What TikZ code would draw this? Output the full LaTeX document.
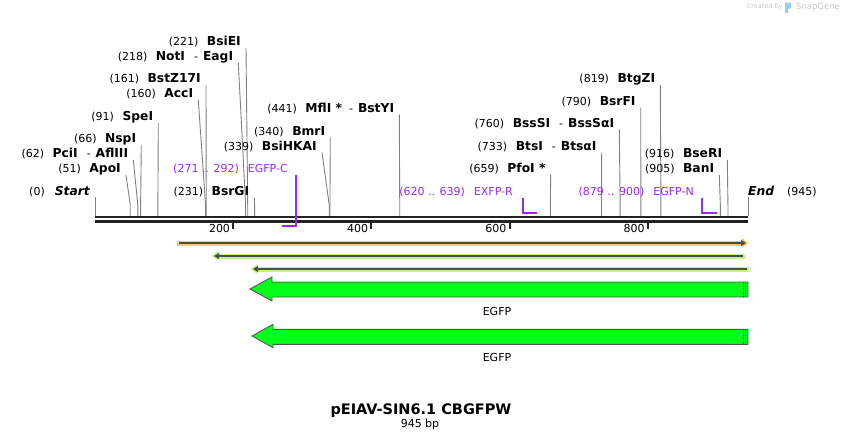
\documentclass[tikz,border=0pt]{standalone}
\usepackage{fontspec}
\setmainfont{DejaVu Sans}
\usetikzlibrary{arrows.meta, positioning}

\definecolor{primerpurple}{RGB}{153,41,240}
\definecolor{sitegray}{RGB}{128,128,128}
\definecolor{bbone}{RGB}{34,34,34}
\definecolor{orangeband}{RGB}{253,202,122}
\definecolor{greenband}{RGB}{192,245,142}
\definecolor{featline}{RGB}{74,80,66}
\definecolor{egfpgreen}{RGB}{4,255,26}
\definecolor{egfpedge}{RGB}{85,85,85}
\definecolor{logogray}{RGB}{200,200,200}
\definecolor{logoblue}{RGB}{150,205,240}

\newcommand\ename[1]{{\fontsize{12.3}{14}\selectfont\bfseries #1}}

\begin{document}
\begin{tikzpicture}[x=1pt, y=-1pt,
    enz/.style={inner sep=0pt, anchor=east, font=\fontsize{11}{13}\selectfont},
    site/.style={draw=sitegray, line width=0.9pt},
    primer/.style={inner sep=0pt, anchor=east, text=primerpurple, font=\fontsize{11}{13}\selectfont},
    bracket/.style={draw=primerpurple, line width=2pt},
    bbline/.style={draw=bbone, line width=2.6pt},
    tick/.style={draw=bbone, line width=2pt},
    ticklab/.style={inner sep=0pt, anchor=east, font=\fontsize{11}{13}\selectfont},
    bandO/.style={draw=orangeband, line width=5pt, -{Triangle[length=7pt,width=10pt]}},
    bandG/.style={draw=greenband, line width=5pt, -{Triangle[length=7pt,width=10pt]}},
    fline/.style={draw=featline, line width=2pt, -{Triangle[length=5pt,width=6pt]}},
    egfp/.style={draw=egfpedge, fill=egfpgreen, line width=0.9pt},
    featlab/.style={font=\fontsize{11}{13}\selectfont}]
  \useasboundingbox (0,0) rectangle (844,439);

  % backbone
  \coordinate (bb-l) at (95,217);
  \coordinate (bb-r) at (748,217);
  \draw[bbline] (bb-l) -- (bb-r);
  \draw[bbline] ([yshift=-4.4pt]bb-l) -- ([yshift=-4.4pt]bb-r);
  \foreach \t in {200,400,600,800}{
    \coordinate (tk\t) at ({95+0.691*\t},222);
    \draw[tick] (tk\t) -- ++(0,7);
    \node[ticklab] (tl\t) at ([xshift=-3pt,yshift=-6.5pt]tk\t) {\t};
  }

  % ends
  \node[enz] (start) at (90,192) {(0)\hspace{10pt}\ename{\itshape Start}};
  \coordinate (start-cut) at (95,216);
  \draw[site] ([xshift=5pt,yshift=-5pt]start.east) -- (start-cut);
  \node[enz, anchor=west] (end) at (748,192) {\ename{\itshape End}\hspace{13pt}(945)};
  \coordinate (end-cut) at (748,216);
  \draw[site] ([yshift=-5pt]end.west) -- (end-cut);

  % enzyme sites
  \foreach \pos/\tx/\ly/\nm/\txt in {
      51/126/169/apoI/{\ename{ApoI}},
      62/133.3/154/pciI/{\ename{PciI}\hspace{9pt}-\hspace{5pt}\ename{AflIII}},
      66/141.3/139/nspI/{\ename{NspI}},
      91/158.3/117/speI/{\ename{SpeI}},
      160/198.3/94/accI/{\ename{AccI}},
      161/206/79/bstZ/{\ename{BstZ17I}},
      218/238.3/57/notI/{\ename{NotI}\hspace{9pt}-\hspace{5pt}\ename{EagI}},
      221/246/42/bsiEI/{\ename{BsiEI}},
      231/254.3/192/bsrGI/{\ename{BsrGI}},
      339/322/146.5/bsiHKAI/{\ename{BsiHKAI}},
      340/330.3/131.5/bmrI/{\ename{BmrI}},
      441/399.3/108.5/mflI/{\ename{MflI *}\hspace{7pt}-\hspace{5pt}\ename{BstYI}},
      659/550.7/168.5/pfoI/{\ename{PfoI *}},
      733/601.7/146.5/btsI/{\ename{BtsI}\hspace{9pt}-\hspace{5pt}\ename{BtsαI}},
      760/619.3/123.5/bssSI/{\ename{BssSI}\hspace{9pt}-\hspace{5pt}\ename{BssSαI}},
      790/640.7/101.5/bsrFI/{\ename{BsrFI}},
      819/660.3/79/btgZI/{\ename{BtgZI}},
      905/719.3/169/banI/{\ename{BanI}},
      916/727.3/154/bseRI/{\ename{BseRI}}}{
    \node[enz] (\nm) at (\tx-5,\ly) {(\pos)\hspace{8.5pt}\txt};
    \coordinate (\nm-cut) at ({95+0.691*\pos},216);
    \draw[site] ([xshift=5pt,yshift=-6pt]\nm.east) -- ([yshift=11pt]\nm-cut) -- (\nm-cut);
  }

  % primers
  \node[primer] (egfpC) at (288,169) {(271 .. 292)\hspace{9pt}EGFP-C};
  \coordinate (egfpC-a) at ({95+0.691*271},226);
  \draw[bracket] ([xshift=8pt,yshift=-6pt]egfpC.east) |- (egfpC-a);
  \node[primer] (exfpR) at (513,192) {(620 .. 639)\hspace{9pt}EXFP-R};
  \coordinate (exfpR-b) at ({95+0.691*639},213);
  \draw[bracket] ([xshift=10pt,yshift=-6pt]exfpR.east) |- (exfpR-b);
  \node[primer] (egfpN) at (694,192) {(879 .. 900)\hspace{9pt}EGFP-N};
  \coordinate (egfpN-b) at ({95+0.691*900},213);
  \draw[bracket] ([xshift=8pt,yshift=-6pt]egfpN.east) |- (egfpN-b);

  % features
  \coordinate (orf-l) at (177,243);
  \coordinate (orf-r) at (748.5,243);
  \draw[bandO] (orf-l) -- (orf-r);
  \draw[fline] ([xshift=2pt]orf-l) -- ([xshift=-2.5pt]orf-r);
  \coordinate (g1-r) at (745,256);
  \coordinate (g1-l) at (211.5,256);
  \draw[bandG] (g1-r) -- (g1-l);
  \draw[fline] ([xshift=-2.5pt]g1-r) -- ([xshift=2.5pt]g1-l);
  \coordinate (g2-r) at (749,269);
  \coordinate (g2-l) at (250.5,269);
  \draw[bandG] (g2-r) -- (g2-l);
  \draw[fline] ([xshift=-2.5pt]g2-r) -- ([xshift=2.5pt]g2-l);

  \draw[egfp] (250,289) -- (272,277) -- (272,282) -- (748,282) -- (748,297)
    -- (272,297) -- (272,301) -- cycle;
  \draw[densely dotted, line width=0.7pt] (743.5,282.5) -- (743.5,296.5);
  \draw[densely dotted, line width=0.7pt] (745.5,283) -- (745.5,296.5);
  \node[featlab] (egfp1) at (497,311) {EGFP};
  \draw[egfp] (252,336) -- (273,324.3) -- (273,329.3) -- (748,329.3) -- (748,344.3)
    -- (273,344.3) -- (273,347.7) -- cycle;
  \draw[densely dotted, line width=0.7pt] (743.5,329.8) -- (743.5,343.8);
  \draw[densely dotted, line width=0.7pt] (745.5,330.3) -- (745.5,343.8);
  \node[featlab] (egfp2) at (497,357) {EGFP};

  % title
  \node[anchor=base, font=\bfseries\fontsize{14.5}{16}\selectfont] (title) at (421,414) {pEIAV-SIN6.1 CBGFPW};
  \node[anchor=base, font=\fontsize{11}{13}\selectfont] (size) at (420,427) {945 bp};

  % logo
  \node[font=\fontsize{6.5}{8}\selectfont, text=logogray, inner sep=0pt] (made) at (764.7,7) {Created by};
  \fill[logoblue] (785,2.5) -- (791,2.5) -- (791,8) -- (788,9) -- (788,13) -- (785,13) -- cycle;
  \node[font=\fontsize{8.5}{10}\selectfont, text=logogray, inner sep=0pt] (sg) at (818,7) {SnapGene};
\end{tikzpicture}
\end{document}
